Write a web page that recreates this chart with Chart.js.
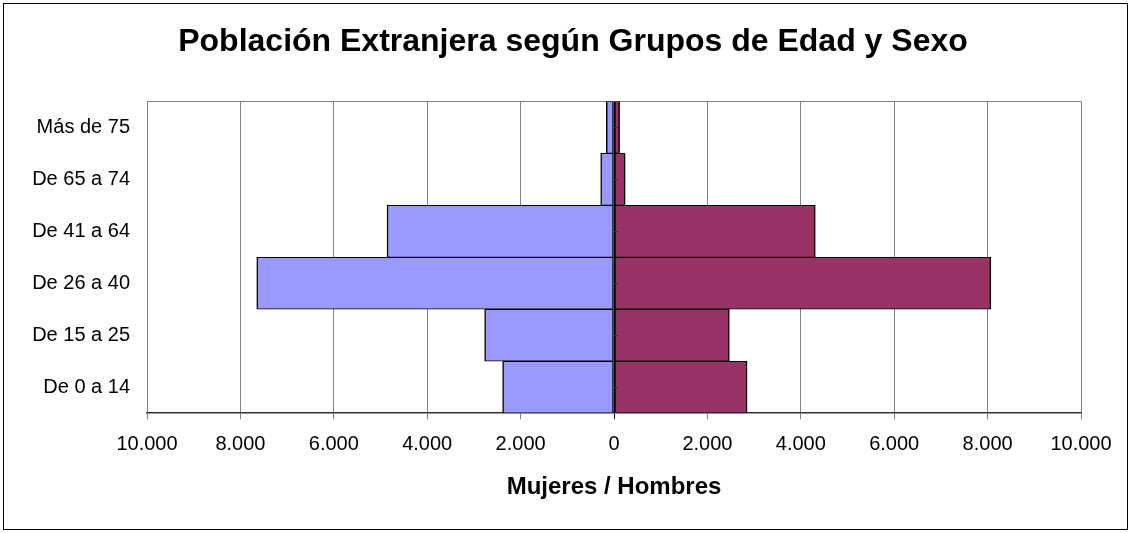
<!DOCTYPE html>
<html>
<head>
<meta charset="utf-8">
<script src="https://cdn.jsdelivr.net/npm/chart.js@4"></script>
<style>
  html, body { margin: 0; padding: 0; background: #fff; }
  #wrap { position: relative; width: 1131px; height: 533px; }
</style>
</head>
<body>
<div id="wrap"><canvas id="pyramid"></canvas></div>
<script>
// Age groups, top row first (Chart.js lists horizontal categories top-down)
const ageGroups = ['Más de 75', 'De 65 a 74', 'De 41 a 64', 'De 26 a 40', 'De 15 a 25', 'De 0 a 14'];
// Women go left (stored as positive, plotted negative), men go right
const mujeres = [165, 285, 4860, 7650, 2770, 2385];
const hombres = [120, 240, 4310, 8070, 2470, 2850];
// x axis range and step for the tick labels
const xMin = -10000;
const xMax = 10000;
const xStep = 2000;

// 10000 -> "10.000", negatives shown without sign
const fmt = v => String(Math.abs(v)).replace(/\B(?=(\d{3})+(?!\d))/g, '.');

const framePlugin = {
    id: 'frame',
    beforeDraw(chart) {
        const ctx = chart.ctx;
        ctx.save();
        ctx.fillStyle = '#fff';
        ctx.fillRect(0, 0, chart.width, chart.height);
        ctx.restore();
    },
    beforeDatasetsDraw(chart) {
        // gray top edge of the plot area
        const ctx = chart.ctx, a = chart.chartArea;
        ctx.save();
        ctx.strokeStyle = '#808080';
        ctx.lineWidth = 1;
        ctx.beginPath();
        ctx.moveTo(a.left, Math.round(a.top) + 0.5);
        ctx.lineTo(a.right, Math.round(a.top) + 0.5);
        ctx.stroke();
        ctx.restore();
    },
    afterDatasetsDraw(chart) {
        const ctx = chart.ctx;
        const x0 = Math.round(chart.scales.x.getPixelForValue(0));
        const yScale = chart.scales.y;
        ctx.save();
        ctx.strokeStyle = '#333';
        ctx.lineWidth = 1;
        // little category ticks on the zero axis
        ageGroups.forEach((g, i) => {
            const y = Math.round(yScale.getPixelForTick(i)) + 0.5;
            ctx.beginPath();
            ctx.moveTo(x0, y);
            ctx.lineTo(x0 + 4, y);
            ctx.stroke();
        });
        // outer frame of the whole picture
        ctx.strokeStyle = '#000';
        ctx.strokeRect(3.5, 3.5, chart.width - 7, chart.height - 7);
        ctx.restore();
    }
};

Chart.defaults.font.family = '"Liberation Sans", Arial, sans-serif';
Chart.defaults.color = '#000';

const barBorder = { top: 1, bottom: 1, left: 1.5, right: 1.5 };

const chart = new Chart(document.getElementById('pyramid'), {
    type: 'bar',
    data: {
        labels: ageGroups,
        datasets: [{
            label: 'Mujeres',
            data: mujeres.map(v => -v),
            backgroundColor: '#9999FF',
            borderColor: '#000',
            borderWidth: barBorder,
            borderSkipped: false,
            barPercentage: 1,
            categoryPercentage: 1
        }, {
            label: 'Hombres',
            data: hombres,
            backgroundColor: '#993366',
            borderColor: '#000',
            borderWidth: barBorder,
            borderSkipped: false,
            barPercentage: 1,
            categoryPercentage: 1
        }]
    },
    options: {
        indexAxis: 'y',
        responsive: true,
        maintainAspectRatio: false,
        animation: false,
        layout: {
            // left/right keep the title centred a bit right of the middle, like the original
            padding: { left: 27, right: 12, top: 0, bottom: 14 }
        },
        plugins: {
            legend: { display: false },
            tooltip: { enabled: false },
            title: {
                display: true,
                text: 'Población Extranjera según Grupos de Edad y Sexo',
                color: '#000',
                font: { size: 32, weight: 'bold' },
                padding: { top: 23, bottom: 40 }
            }
        },
        scales: {
            x: {
                stacked: true,
                min: xMin,
                max: xMax,
                ticks: {
                    stepSize: xStep,
                    color: '#000',
                    font: { size: 20 },
                    padding: 13,
                    maxRotation: 0,
                    callback: v => fmt(v)
                },
                grid: {
                    color: c => (c.tick && c.tick.value === 0) ? '#000' : '#808080',
                    lineWidth: 1,
                    tickLength: 6
                },
                border: { color: '#333', width: 1.5 },
                title: {
                    display: true,
                    text: 'Mujeres / Hombres',
                    color: '#000',
                    font: { size: 24, weight: 'bold' },
                    padding: { top: 4, bottom: 17 }
                },
                // fixed gap on the right of the plot (instead of the label overhang)
                afterFit(scale) { scale.paddingRight = 50; }
            },
            y: {
                stacked: true,
                grid: { display: false, drawTicks: false },
                border: { display: false },
                ticks: { color: '#000', font: { size: 20 }, padding: 17 },
                afterFit(scale) { scale.width = 120; }
            }
        }
    },
    plugins: [framePlugin]
});
</script>
</body>
</html>
